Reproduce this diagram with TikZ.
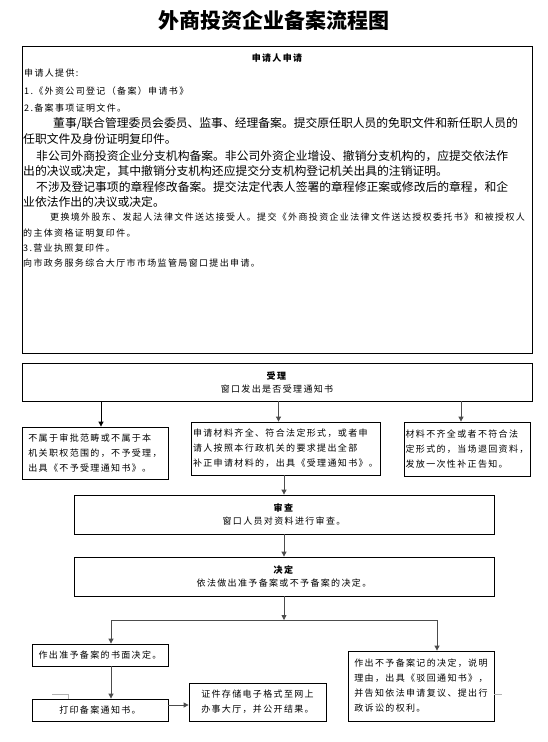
\documentclass[tikz,border=0pt]{standalone}
\usepackage{fontspec}
\setmainfont{Noto Sans CJK SC}
\newfontfamily\cjk[LetterSpace=15]{Noto Sans CJK SC}
\newfontfamily\cjkwide{Noto Sans CJK SC}
\usetikzlibrary{arrows.meta,positioning}
\newcommand\smallcjk{\cjk\fontsize{9}{15}\selectfont}
\newcommand\bigcjk{\cjkwide\fontsize{11.8}{14}\selectfont}

\begin{document}
\begin{tikzpicture}[x=1pt,y=-1pt,
   every node/.style={inner sep=0pt},
   box/.style={draw,line width=0.8pt,align=left,font=\smallcjk},
   headbox/.style={draw,line width=0.8pt,align=center,font=\cjk\fontsize{9}{13}\selectfont},
   txt/.style={anchor=west,font=\smallcjk},
   bigtxt/.style={anchor=west,font=\bigcjk},
   arr/.style={-{Triangle[length=5pt,width=5pt]},line width=0.8pt,draw=black!70},
   faint/.style={line width=0.5pt,draw=black!30}]
\useasboundingbox (0,0) rectangle (548,742);

% title
\node[font=\cjkwide\bfseries\fontsize{21}{21}\selectfont] (title) at (274,20) {外商投资企业备案流程图};

% application
\node[draw,line width=0.8pt,minimum width=510pt,minimum height=307pt] (app) at (277,199.5) {};
\node[font=\smallcjk\bfseries] (apphead) at (277,58) {申请人申请};
\node[txt] (p1) at (24,73) {申请人提供:};
\node[txt] (p2) at (24,91) {1.《外资公司登记（备案）申请书》};
\node[txt] (p3) at (24,108) {2.备案事项证明文件。};
\node[bigtxt] (p4) at (53,124) {董事/联合管理委员会委员、监事、经理备案。提交原任职人员的免职文件和新任职人员的};
\node[bigtxt] (p5) at (23,139) {任职文件及身份证明复印件。};
\node[bigtxt] (p6) at (36,156) {非公司外商投资企业分支机构备案。非公司外资企业增设、撤销分支机构的，应提交依法作};
\node[bigtxt] (p7) at (23,171) {出的决议或决定，其中撤销分支机构还应提交分支机构登记机关出具的注销证明。};
\node[bigtxt] (p8) at (36,187) {不涉及登记事项的章程修改备案。提交法定代表人签署的章程修正案或修改后的章程，和企};
\node[bigtxt] (p9) at (23,202) {业依法作出的决议或决定。};
\node[txt] (p10) at (50,217) {更换境外股东、发起人法律文件送达接受人。提交《外商投资企业法律文件送达授权委托书》和被授权人};
\node[txt] (p11) at (23,233) {的主体资格证明复印件。};
\node[txt] (p12) at (23,248) {3.营业执照复印件。};
\node[txt] (p13) at (23,263) {向市政务服务综合大厅市市场监管局窗口提出申请。};

% acceptance
\node[headbox,minimum width=510pt,minimum height=38pt] (accept) at (277,382)
   {\textbf{受理}\\窗口发出是否受理通知书};
\node[box,minimum width=146pt,minimum height=52pt] (reject) at (95,453)
   {不属于审批范畴或不属于本\\机关职权范围的，不予受理，\\出具《不予受理通知书》。};
\node[box,minimum width=189pt,minimum height=53pt] (ok) at (285.5,448.5)
   {申请材料齐全、符合法定形式，或者申\\请人按照本行政机关的要求提出全部\\补正申请材料的，出具《受理通知书》。};
\node[box,minimum width=126pt,minimum height=54pt] (incomplete) at (467,449)
   {材料不齐全或者不符合法\\定形式的，当场退回资料，\\发放一次性补正告知。};

% review and decision
\node[headbox,minimum width=420pt,minimum height=39pt] (review) at (284,514.5)
   {\textbf{审查}\\窗口人员对资料进行审查。};
\node[headbox,minimum width=420pt,minimum height=39pt] (decide) at (284,576.5)
   {\textbf{决定}\\依法做出准予备案或不予备案的决定。};

% results
\node[box,minimum width=136pt,minimum height=22pt] (grant) at (100,655) {作出准予备案的书面决定。};
\node[box,minimum width=136pt,minimum height=22pt] (print) at (100,710) {打印备案通知书。};
\node[box,minimum width=137pt,minimum height=38pt] (store) at (257.5,702)
   {证件存储电子格式至网上\\办事大厅，并公开结果。};
\node[box,minimum width=146pt,minimum height=70pt] (deny) at (421,686)
   {作出不予备案记的决定，说明\\理由，出具《驳回通知书》，\\并告知依法申请复议、提出行\\政诉讼的权利。};
\coordinate (fork) at (284,620);

% arrows
\draw[arr,draw=black] ([xshift=6pt]reject.north |- accept.south) -- ([xshift=6pt]reject.north);
\draw[arr] ([xshift=-7pt]ok.north |- accept.south) -- ([xshift=-7pt]ok.north);
\draw[arr] ([xshift=-6pt]incomplete.north |- accept.south) -- ([xshift=-6pt]incomplete.north);
\draw[arr] (review.north |- ok.south) -- (review.north);
\draw[arr] (review) -- (decide);
\draw[arr] (decide) -- (fork);
\draw[line width=0.8pt,draw=black!70] ([xshift=11pt]grant.north |- fork) -- ([xshift=16pt]deny.north |- fork);
\draw[arr] ([xshift=11pt]grant.north |- fork) -- ([xshift=11pt]grant.north);
\draw[arr] ([xshift=16pt]deny.north |- fork) -- ([xshift=16pt]deny.north);
\draw[arr] ([xshift=11pt]grant.south) -- ([xshift=11pt]print.north);
\draw[arr] ([yshift=5pt]print.east) -- ([yshift=5pt]print.east -| store.west);

% stray lines
\draw[faint] (52,694) -- (68,694) -- (68,0 |- print.north);
\draw[faint] (deny.east |- 0,694) -- (502,694);
\end{tikzpicture}
\end{document}
